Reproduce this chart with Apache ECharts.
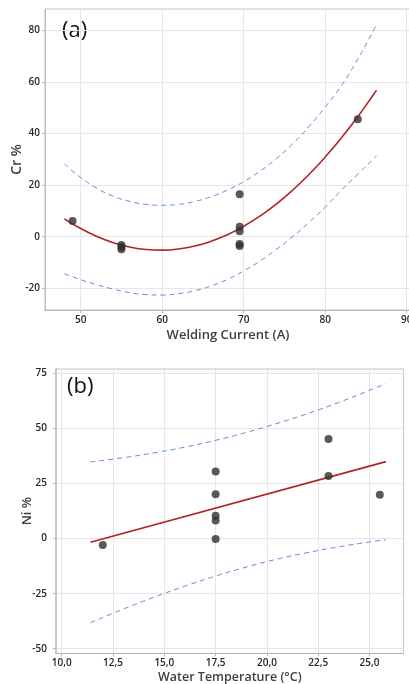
<!DOCTYPE html>
<html>
<head>
<meta charset="utf-8">
<script src="https://cdn.jsdelivr.net/npm/echarts@6/dist/echarts.min.js"></script>
<style>
html,body{margin:0;padding:0;background:#fff;}
#chart{width:409px;height:684px;}
</style>
</head>
<body>
<div id="chart"></div>
<script>
// ---------- Panel (a): Cr % vs Welding Current ----------
const weldCurrent = [49, 55, 55, 55, 69.5, 69.5, 69.5, 69.5, 69.5, 84];
const crPct       = [6.1, -3.2, -4.0, -4.8, 16.5, 3.9, 2.1, -2.8, -3.6, 45.6];

const fitCurrent = [48, 50, 52, 54, 56, 58, 60, 62, 64, 66, 68, 70, 72, 74, 76, 78, 80, 82, 84, 86, 86.3];
const crFit      = [6.95, 3.17, 0.09, -2.29, -3.96, -4.93, -5.19, -4.75, -3.61, -1.76, 0.79, 4.05, 8.01, 12.67, 18.04, 24.11, 30.89, 38.37, 46.55, 55.44, 56.83];
const crUpper    = [28.25, 22.97, 18.79, 15.71, 13.74, 12.57, 12.21, 12.55, 13.69, 15.54, 18.09, 21.35, 25.41, 30.27, 36.04, 42.71, 50.29, 58.67, 68.85, 80.44, 82.23];
const crLower    = [-14.35, -16.63, -18.61, -20.29, -21.66, -22.43, -22.59, -22.05, -20.91, -19.06, -16.51, -13.25, -9.39, -4.93, 0.04, 5.51, 11.49, 18.07, 24.25, 30.44, 31.43];

const crXTicks = [50, 60, 70, 80, 90];
const crYTicks = [-20, 0, 20, 40, 60, 80];

// ---------- Panel (b): Ni % vs Water Temperature ----------
const waterTemp = [12, 17.5, 17.5, 17.5, 17.5, 17.5, 23, 23, 25.5];
const niPct     = [-2.9, 30.5, 20.2, 10.4, 8.2, -0.1, 45.3, 28.5, 20.0];

const niFitTemp = [11.4, 25.8];
const niFit     = [-1.6, 35.0];

const bandTemp = [11.4, 13, 14.5, 16, 17.5, 19, 20.5, 22, 23.5, 25, 25.8];
const niUpper  = [34.9, 36.8, 39.0, 41.6, 44.7, 48.3, 52.4, 56.9, 61.9, 67.4, 70.5];
const niLower  = [-38.2, -32.0, -26.6, -21.6, -17.0, -12.9, -9.3, -6.3, -3.7, -1.5, -0.5];

const niXTicks = [10, 12.5, 15, 17.5, 20, 22.5, 25];
const niYTicks = [-50, -25, 0, 25, 50, 75];

const zip = (xs, ys) => xs.map((x, i) => [x, ys[i]]);

const FONT = '"Open Sans", "Noto Sans", sans-serif';
const lblStyle = { color: '#262626', fontSize: 10, fontFamily: FONT, fontWeight: 600 };
const nameStyle = { color: '#404040', fontSize: 13, fontFamily: FONT, fontWeight: 600 };
const gridLine = { show: true, lineStyle: { color: '#e6e6e6', width: 1 } };
const axLine = { show: true, onZero: false, lineStyle: { color: '#b8b8b8', width: 1 } };
const tick = (vals) => ({ show: true, length: 3, customValues: vals, lineStyle: { color: '#b8b8b8' } });

const dashStyle = { color: '#5b8fd0', width: 1, type: [5, 4] };
const fitStyle = { color: '#b02424', width: 1.6 };

const chart = echarts.init(document.getElementById('chart'), null, { renderer: 'canvas' });

chart.setOption({
  animation: false,
  backgroundColor: '#fff',
  grid: [
    { left: 45, top: 9, width: 378, height: 301, show: true, borderColor: '#c4c4c4', borderWidth: 1,
      backgroundColor: 'transparent', containLabel: false, outerBoundsMode: 'none' },
    { left: 56, top: 369, width: 347.6, height: 284.3, show: true, borderColor: '#c4c4c4', borderWidth: 1,
      backgroundColor: 'transparent', containLabel: false, outerBoundsMode: 'none' }
  ],
  xAxis: [
    {
      gridIndex: 0, type: 'value', min: 45.62, max: 92,
      name: 'Welding Current (A)', nameLocation: 'middle', nameGap: 19, nameMoveOverlap: false,
      nameTextStyle: Object.assign({}, nameStyle, { padding: [0, 12, 0, 0] }),
      axisLine: axLine, axisTick: tick(crXTicks), splitLine: gridLine,
      axisLabel: Object.assign({ customValues: crXTicks, margin: 5 }, lblStyle)
    },
    {
      gridIndex: 1, type: 'value', min: 9.72, max: 26.66,
      name: 'Water Temperature (°C)', nameLocation: 'middle', nameGap: 18, nameMoveOverlap: false,
      nameTextStyle: Object.assign({}, nameStyle, { fontSize: 12.5 }),
      axisLine: axLine, axisTick: tick(niXTicks), splitLine: gridLine,
      axisLabel: Object.assign({ customValues: niXTicks, margin: 5,
        formatter: v => v.toFixed(1).replace('.', ',') }, lblStyle)
    }
  ],
  yAxis: [
    {
      gridIndex: 0, type: 'value', min: -28.4, max: 88.3,
      name: 'Cr %', nameLocation: 'middle', nameGap: 21, nameRotate: 90, nameMoveOverlap: false,
      nameTextStyle: Object.assign({}, nameStyle, { fontSize: 14 }),
      axisLine: axLine, axisTick: tick(crYTicks), splitLine: gridLine,
      axisLabel: Object.assign({ customValues: crYTicks, margin: 5 }, lblStyle)
    },
    {
      gridIndex: 1, type: 'value', min: -52.1, max: 77.1,
      name: 'Ni %', nameLocation: 'middle', nameGap: 22, nameRotate: 90, nameMoveOverlap: false,
      nameTextStyle: nameStyle,
      axisLine: { show: true, onZero: false, lineStyle: { color: '#c8c8c8', width: 2 } },
      axisTick: tick(niYTicks), splitLine: gridLine,
      axisLabel: Object.assign({ customValues: niYTicks, margin: 9 }, lblStyle)
    }
  ],
  graphic: [
    { type: 'text', left: 62, top: 20, style: { text: '(a)', font: '22px ' + FONT, fill: '#111' } },
    { type: 'text', left: 67, top: 376, style: { text: '(b)', font: '22px ' + FONT, fill: '#111' } }
  ],
  series: [
    { type: 'line', xAxisIndex: 0, yAxisIndex: 0, data: zip(fitCurrent, crUpper), smooth: true, showSymbol: false, lineStyle: dashStyle, z: 2 },
    { type: 'line', xAxisIndex: 0, yAxisIndex: 0, data: zip(fitCurrent, crLower), smooth: true, showSymbol: false, lineStyle: dashStyle, z: 2 },
    { type: 'line', xAxisIndex: 0, yAxisIndex: 0, data: zip(fitCurrent, crFit), smooth: true, showSymbol: false, lineStyle: fitStyle, z: 3 },
    { type: 'scatter', xAxisIndex: 0, yAxisIndex: 0, data: zip(weldCurrent, crPct), symbolSize: 8, itemStyle: { color: '#2f2f2f' }, z: 4 },

    { type: 'line', xAxisIndex: 1, yAxisIndex: 1, data: zip(bandTemp, niUpper), smooth: true, showSymbol: false, lineStyle: dashStyle, z: 2 },
    { type: 'line', xAxisIndex: 1, yAxisIndex: 1, data: zip(bandTemp, niLower), smooth: true, showSymbol: false, lineStyle: dashStyle, z: 2 },
    { type: 'line', xAxisIndex: 1, yAxisIndex: 1, data: zip(niFitTemp, niFit), showSymbol: false, lineStyle: fitStyle, z: 3 },
    { type: 'scatter', xAxisIndex: 1, yAxisIndex: 1, data: zip(waterTemp, niPct), symbolSize: 8, itemStyle: { color: '#2f2f2f' }, z: 4 }
  ]
});
</script>
</body>
</html>
